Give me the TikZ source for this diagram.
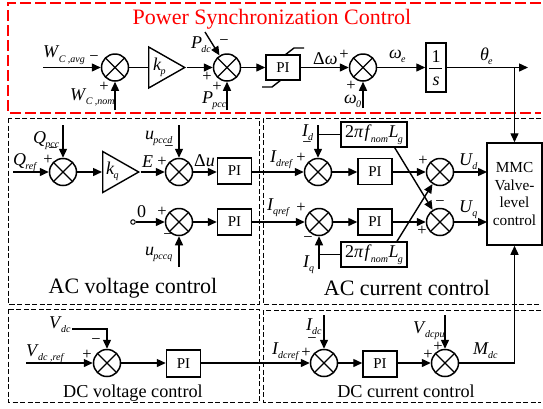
\documentclass[tikz,border=0pt]{standalone}
\usepackage{fontspec}
\setmainfont{Liberation Serif}
\usetikzlibrary{arrows.meta,shapes.geometric}
\newcommand{\lbl}[2]{\textit{#1}\kern-0.8pt\raisebox{-4.5pt}{\fontsize{10}{10}\selectfont\textit{#2}}}
\newcommand{\gainlbl}{2\textit{π}\kern1pt\lbl{f}{nom}\kern0.5pt\lbl{L}{g}}
\begin{document}
\begin{tikzpicture}[x=1pt,y=-1pt,
  sig/.style={line width=1.4pt},
  arr/.style={sig,-{Triangle[length=9pt,width=8pt]}},
  reddash/.style={red,line width=1.1pt,dash pattern=on 11pt off 4pt},
  blackdash/.style={black,line width=0.9pt,dash pattern=on 5pt off 2.5pt},
  sumnode/.style={circle,draw,line width=1.5pt,minimum size=27pt,inner sep=0pt,
    path picture={\draw[line width=1.2pt] (path picture bounding box.north west) -- (path picture bounding box.south east)
      (path picture bounding box.north east) -- (path picture bounding box.south west);}},
  block/.style={draw,line width=1.5pt,inner sep=0pt,font=\fontsize{15}{15}\selectfont},
  pibox/.style={block,minimum width=34pt,minimum height=26pt},
  gainbox/.style={block,minimum width=66pt,minimum height=25pt,font=\fontsize{18}{18}\selectfont},
  tri/.style={draw,line width=1.4pt,isosceles triangle,isosceles triangle stretches,shape border rotate=0,
    minimum width=41pt,minimum height=36pt,inner sep=0pt,anchor=lower side,font=\fontsize{18}{18}\selectfont},
  lab/.style={inner sep=0pt,anchor=base west,font=\fontsize{18}{18}\selectfont},
  sgn/.style={inner sep=0pt,font=\fontsize{16.5}{16.5}\selectfont},
  title/.style={inner sep=0pt,anchor=base,font=\fontsize{22}{22}\selectfont},
  subtitle/.style={inner sep=0pt,anchor=base,font=\fontsize{18.2}{18.2}\selectfont}]
\useasboundingbox (0,0) rectangle (543,408);
% frames
\draw[reddash] (541,3) -- (8,3) -- (8,113) -- (541,113);
\draw[blackdash] (8,118) rectangle (259,304);
\draw[blackdash] (541,118) -- (263,118) -- (263,304) -- (541,304);
\draw[blackdash] (8,309) rectangle (259,402);
\draw[blackdash] (541,310) -- (263,310) -- (263,402) -- (541,402);
\node[title,red] (tpower) at (272,24) {Power Synchronization Control};
\node[title] (tacv) at (133,293) {AC voltage control};
\node[title] (taci) at (407,295) {AC current control};
\node[subtitle] (tdcv) at (133,397) {DC voltage control};
\node[subtitle] (tdci) at (406,397) {DC current control};
% power loop
\node[sumnode] (sumw) at (115,67.5) {};
\node[tri] (kp) at (148,67.5) {};
\node[lab] (lkp) at (153,70) {\lbl{k}{p}};
\node[sumnode] (sump) at (227,67.5) {};
\node[pibox,minimum width=34pt,minimum height=25pt] (pilim) at (283,67.5) {PI};
\node[sumnode] (sumo) at (363,67.5) {};
\node[draw,line width=1.5pt,minimum width=20pt,minimum height=49pt,inner sep=0pt] (integ) at (436,67.5) {};
\node[inner sep=0pt,font=\fontsize{18}{18}\selectfont] (one) at (436,56.5) {1};
\node[inner sep=0pt,font=\fontsize{18}{18}\selectfont\itshape] (ess) at (436,81) {s};
\draw[line width=0.9pt] (429,68) -- (442,68);
\draw[sig] (285,55) -- (294,48) -- (304,48);
\draw[sig] (262,87) -- (272,87) -- (281,80);
\coordinate (wavg) at (43,67.5);
\coordinate (wnom) at (115,110);
\coordinate (pdc) at (205,32);
\coordinate (ppcc) at (227,110);
\coordinate (omz) at (363,108);
\coordinate (theta) at (528,67.5);
\coordinate (thj) at (514.5,67.5);
\draw[arr] (wavg) -- (sumw);
\draw[arr] (wnom) -- (sumw);
\draw[sig] (sumw) -- (kp.lower side);
\draw[arr] (kp.apex) -- (sump);
\draw[arr] (pdc) -- (sump);
\draw[arr] (ppcc) -- (sump);
\draw[arr] (sump) -- (pilim);
\draw[arr] (pilim) -- (sumo);
\draw[arr] (omz) -- (sumo);
\draw[arr] (sumo) -- (integ);
\draw[arr] (integ) -- (theta);
\node[lab] (lwavg) at (43,57.5) {\lbl{W}{C ,avg}};
\node[lab] (lwnom) at (70,100) {\lbl{W}{C ,nom}};
\node[lab] (lpdc) at (191,48) {\lbl{P}{dc}};
\node[lab] (lppcc) at (202,103) {\lbl{P}{pcc}};
\node[lab] (ldw) at (313,64) {Δ\textit{ω}};
\node[lab] (lw0) at (344,103) {\lbl{ω}{0}};
\node[lab] (lwe) at (389,58) {\lbl{ω}{e}};
\node[lab] (lth) at (480,60) {\lbl{θ}{e}};
% AC voltage loop
\node[sumnode] (sumq) at (63,172) {};
\node[tri] (kq) at (102,172) {};
\node[lab] (lkq) at (106,174) {\lbl{k}{q}};
\node[sumnode] (sumu) at (179,172) {};
\node[pibox] (piu) at (234.5,171) {PI};
\node[sumnode] (sumz) at (179,222) {};
\node[pibox] (piz) at (234.5,222) {PI};
\coordinate (qref) at (13,172);
\coordinate (qpcc) at (63,125);
\coordinate (upd) at (179,125);
\coordinate (upq) at (179,267);
\node[circle,draw,line width=1pt,minimum size=4.5pt,inner sep=0pt] (zero) at (133,222) {};
\draw[arr] (qref) -- (sumq);
\draw[arr] (qpcc) -- (sumq);
\draw[arr] (sumq) -- (kq.lower side);
\draw[arr] (kq.apex) -- (sumu);
\draw[arr] (upd) -- (sumu);
\draw[arr] (sumu) -- (piu.west |- sumu);
\draw[arr] (zero) -- (sumz);
\draw[arr] (upq) -- (sumz);
\draw[arr] (sumz) -- (piz);
\node[lab] (lqref) at (13,165) {\lbl{Q}{ref}};
\node[lab] (lqpcc) at (33,143) {\lbl{Q}{pcc}};
\node[lab] (le) at (142,167) {\textit{E}};
\node[lab] (lupd) at (145,139) {\lbl{u}{pccd}};
\node[lab] (ldu) at (194,166) {Δ\textit{u}};
\node[lab] (lzero) at (137,217) {0};
\node[lab] (lupq) at (145,255) {\lbl{u}{pccq}};
% AC current loop
\node[sumnode] (sumid) at (318,172) {};
\node[sumnode] (sumiq) at (319,222) {};
\node[pibox] (pid) at (375,171.5) {PI};
\node[pibox] (piq) at (375,222) {PI};
\node[sumnode] (sumud) at (440,172) {};
\node[sumnode] (sumuq) at (440,222) {};
\node[gainbox] (gaind) at (374,134.5) {\gainlbl};
\node[gainbox] (gainq) at (374,254.5) {\gainlbl};
\node[draw,line width=1.5pt,minimum width=55pt,minimum height=102pt,inner sep=0pt,align=center,
  font=\fontsize{15.3}{17.5}\selectfont] (mmc) at (514.5,194) {MMC\\Valve-\\level\\control};
\coordinate (idt) at (318,125);
\coordinate (iqb) at (319,269);
\coordinate (udo) at (487,172);
\coordinate (uqo) at (487,222);
\draw[arr] (piu.east |- sumu) -- (sumid);
\draw[arr] (piz) -- (sumiq);
\draw[arr] (idt) -- (sumid);
\draw[sig] (gaind.west) -- (idt |- gaind.west);
\draw[arr] (iqb) -- (sumiq);
\draw[sig] (gainq.west) -- (iqb |- gainq.west);
\draw[arr] (sumid) -- (pid.west |- sumid);
\draw[arr] (sumiq) -- (piq);
\draw[arr] (pid.east |- sumud) -- (sumud);
\draw[arr] (piq) -- (sumuq);
\draw[arr] ([xshift=-13pt]gaind.south east) -- (sumuq);
\draw[arr] ([xshift=23pt]gainq.north) -- (sumud);
\draw[arr] (sumud) -- (udo);
\draw[arr] (sumuq) -- (uqo);
\draw[arr] (thj) -- (mmc.north);
\node[lab] (lid) at (302,136) {\lbl{I}{d}};
\node[lab] (lidr) at (270,162) {\lbl{I}{dref}};
\node[lab] (liqr) at (267,210) {\lbl{I}{qref}};
\node[lab] (liq) at (303,267) {\lbl{I}{q}};
\node[lab] (lud) at (459,165) {\lbl{U}{d}};
\node[lab] (luq) at (459,212) {\lbl{U}{q}};
% DC loops
\node[sumnode] (sumv) at (107,363) {};
\node[pibox,minimum height=27pt] (piv) at (183.5,363.5) {PI};
\node[sumnode] (sumdi) at (324,363) {};
\node[pibox,minimum height=26pt] (pii) at (380,364) {PI};
\node[sumnode] (summ) at (445,363) {};
\coordinate (vdcs) at (72,329);
\coordinate (vref) at (26,363);
\coordinate (idct) at (324,315);
\coordinate (vput) at (445,315);
\draw[arr] (vref) -- (sumv);
\draw[arr] (vdcs) -| (sumv);
\draw[arr] (sumv) -- (piv.west |- sumv);
\draw[arr] (piv.east |- sumv) -- (sumdi);
\draw[arr] (idct) -- (sumdi);
\draw[arr] (sumdi) -- (pii.west |- sumdi);
\draw[arr] (pii.east |- summ) -- (summ);
\draw[arr] (vput) -- (summ);
\draw[arr] (summ) -| (mmc.south);
\node[lab] (lvdc) at (49,328) {\lbl{V}{dc}};
\node[lab] (lvref) at (26,356) {\lbl{V}{dc ,ref}};
\node[lab] (lidc) at (306,330) {\lbl{I}{dc}};
\node[lab] (lidcr) at (272,354) {\lbl{I}{dcref}};
\node[lab] (lvpu) at (413,333) {\lbl{V}{dcpu}};
\node[lab] (lmdc) at (473,354) {\lbl{M}{dc}};
% signs
\foreach \n/\x/\y in {a/104/87,b/207/77,c/217/87,d/344/55,e/351/86,f/48/160,g/162/162,h/162/212,i/301/158,j/301/208,k/423/161,l/422/231,m/87/355,n/306/353,o/428/355,p/438/347} {
\node[sgn] (plus\n) at (\x,\y) {+};
}
\foreach \n/\x/\y in {a/94/59,b/224/43,c/53/151,d/169/149,e/168/237,f/307/145,g/308/240,h/440/189,i/440/204,j/96/342,k/312/341} {
\node[sgn] (minus\n) at (\x,\y) {−};
}
\end{tikzpicture}
\end{document}
